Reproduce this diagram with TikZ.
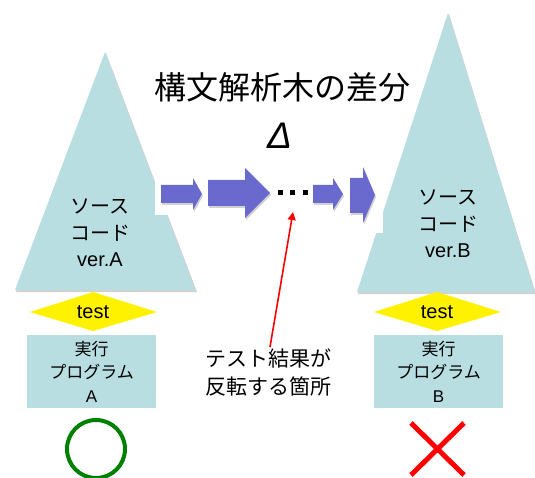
\documentclass[tikz,border=0pt]{standalone}
\usepackage{fontspec}
\setmainfont{Liberation Sans}
\newfontfamily\jp{Noto Sans CJK JP}
\usetikzlibrary{arrows.meta}
\definecolor{tri}{RGB}{184,222,226}
\definecolor{arr}{RGB}{106,106,206}
\definecolor{okgreen}{RGB}{0,128,0}
\begin{document}
\begin{tikzpicture}[x=1pt,y=-1pt,
  shade/.style={fill=black,opacity=0.18},
  srctext/.style={align=center,font=\fontsize{20}{26.5}\selectfont,inner sep=0pt},
  progbox/.style={fill=tri,minimum width=129pt,minimum height=73pt,inner sep=0pt,align=center,font=\fontsize{17}{23.5}\selectfont},
  testtext/.style={font=\fontsize{20}{24}\selectfont,inner sep=0pt},
  blockarrow/.style={fill=arr},
  dot/.style={fill=black}]
\useasboundingbox (0,0) rectangle (535,478);
% triangles
\fill[shade] (106,53) -- (197,292) -- (16,292) -- cycle;
\fill[tri] (105,52) -- (195,290) -- (15,290) -- cycle;
\fill[shade] (449,14) -- (536,294) -- (358,294) -- cycle;
\fill[tri] (448,13) -- (535,292) -- (357,292) -- cycle;
% white backgrounds of arrow strip
\fill[white] (155,180) rectangle (205,215);
\fill[white] (205,163) rectangle (383,233);
% block arrows (shadow + body)
\foreach \dx/\dy/\op in {1/2/0.18}{
  \fill[black,opacity=\op] ([shift={(\dx,\dy)}]161,185) -- ++(32,0) -- ++(0,-7) -- ++(9,16) -- ++(-9,16) -- ++(0,-7) -- ++(-32,0) -- cycle;
  \fill[black,opacity=\op] ([shift={(\dx,\dy)}]208,180) -- ++(37,0) -- ++(0,-12) -- ++(25,25) -- ++(-25,25) -- ++(0,-12) -- ++(-37,0) -- cycle;
  \fill[black,opacity=\op] ([shift={(\dx,\dy)}]313,185) -- ++(20,0) -- ++(0,-7) -- ++(10,16) -- ++(-10,16) -- ++(0,-7) -- ++(-20,0) -- cycle;
  \fill[black,opacity=\op] ([shift={(\dx,\dy)}]350,178) -- ++(13,0) -- ++(0,-11) -- ++(12,28) -- ++(-12,28) -- ++(0,-10) -- ++(-13,0) -- cycle;
}
\fill[blockarrow] (161,185) -- ++(32,0) -- ++(0,-7) -- ++(9,16) -- ++(-9,16) -- ++(0,-7) -- ++(-32,0) -- cycle;
\fill[blockarrow] (208,180) -- ++(37,0) -- ++(0,-12) -- ++(25,25) -- ++(-25,25) -- ++(0,-12) -- ++(-37,0) -- cycle;
\fill[blockarrow] (313,185) -- ++(20,0) -- ++(0,-7) -- ++(10,16) -- ++(-10,16) -- ++(0,-7) -- ++(-20,0) -- cycle;
\fill[blockarrow] (350,178) -- ++(13,0) -- ++(0,-11) -- ++(12,28) -- ++(-12,28) -- ++(0,-10) -- ++(-13,0) -- cycle;
% dots
\foreach \x in {280,292.5,305}{\fill[dot] (\x-2.5,190.5) rectangle (\x+2.5,195.5);}
\coordinate (dotsTip) at (293,212);
% title
\node[inner sep=0pt] (title) at (282,87) {\jp\fontsize{32}{36}\selectfont 構文解析木の差分};
\node[inner sep=0pt] (delta) at (280,136) {\fontsize{37}{40}\selectfont\itshape Δ};
% source texts
\node[srctext] (srcA) at (100,233) {{\jp ソース}\\{\jp コード}\\ver.A};
\node[srctext] (srcB) at (448,224) {{\jp ソース}\\{\jp コード}\\ver.B};
% test diamonds
\fill[yellow] (30,312) -- (93,292) -- (157,312) -- (93,331) -- cycle;
\node[testtext] (testA) at (93,312) {test};
\fill[yellow] (374,312) -- (437,292) -- (501,312) -- (437,331) -- cycle;
\node[testtext] (testB) at (437,312) {test};
% program boxes
\node[progbox] (progA) at (91.5,371.5) {{\jp 実行}\\{\jp プログラム}\\A};
\node[progbox] (progB) at (438.5,371.5) {{\jp 実行}\\{\jp プログラム}\\B};
% results
\node[draw=okgreen,line width=4pt,circle,minimum size=58pt,inner sep=0pt] (okA) at (96,449) {};
\draw[red,line width=5pt] (411,423) -- (464,475) (411,475) -- (464,423);
% label and red connector
\node[anchor=north west,align=left,inner sep=0pt,font=\jp\fontsize{21}{28}\selectfont] (lbl) at (205,349) {テスト結果が\\反転する箇所};
\coordinate (lblTop) at (270,347);
\draw[red,line width=1.6pt,-{Triangle[length=8pt,width=8pt]}] (lblTop) -- (dotsTip);
\end{tikzpicture}
\end{document}
